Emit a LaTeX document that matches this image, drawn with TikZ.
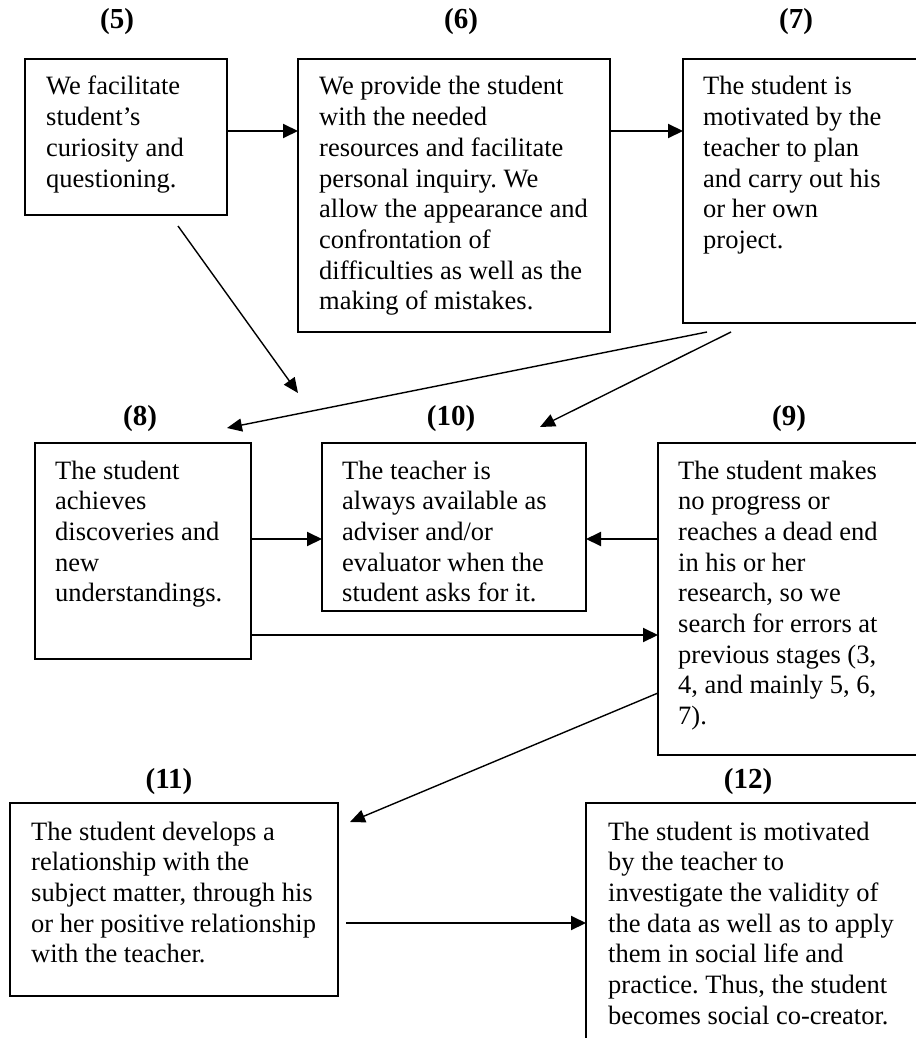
\documentclass[tikz,border=0pt]{standalone}
\usepackage{fontspec}
\setmainfont{Liberation Serif}
\usetikzlibrary{arrows.meta}
\tikzset{
  box/.style={draw, line width=2pt, rectangle, inner sep=0pt, outer sep=0pt, anchor=north west},
  txt/.style={inner sep=0pt, anchor=base west, font=\fontsize{26.5}{30.7}\selectfont},
  lbl/.style={inner sep=0pt, font=\fontsize{29}{31}\selectfont\bfseries},
  harrow/.style={line width=2pt, -{Triangle[length=15pt,width=14pt]}},
  darrow/.style={line width=1.4pt, -{Triangle[length=15pt,width=13pt]}}
}
\newcommand{\bt}[1]{\parbox[t]{420pt}{\frenchspacing #1}}
\begin{document}
\begin{tikzpicture}[x=1pt,y=-1pt]
\useasboundingbox (0,0) rectangle (915,1038);
% labels
\node[lbl] (l5) at (117,22) {(5)};
\node[lbl] (l6) at (461,22) {(6)};
\node[lbl] (l7) at (796,22) {(7)};
\node[lbl] (l8) at (140,419) {(8)};
\node[lbl] (l10) at (451,419) {(10)};
\node[lbl] (l9) at (789,419) {(9)};
\node[lbl] (l11) at (169,782) {(11)};
\node[lbl] (l12) at (748,782) {(12)};
% boxes
\node[box, minimum width=202pt, minimum height=156pt] (b5) at (25,59) {};
\node[box, minimum width=312pt, minimum height=273pt] (b6) at (298,59) {};
\node[box, minimum width=247pt, minimum height=264pt] (b7) at (683,59) {};
\node[box, minimum width=216pt, minimum height=216pt] (b8) at (35,443) {};
\node[box, minimum width=264pt, minimum height=168pt] (b10) at (322,443) {};
\node[box, minimum width=272pt, minimum height=312pt] (b9) at (658,443) {};
\node[box, minimum width=328pt, minimum height=193pt] (b11) at (10,803) {};
\node[box, minimum width=344pt, minimum height=257pt] (b12) at (586,803) {};
% texts
\node[txt] (t5) at (46,95) {\bt{We facilitate\\ student’s\\ curiosity and\\ questioning.}};
\node[txt] (t6) at (319,95) {\bt{We provide the student\\ with the needed\\ resources and facilitate\\ personal inquiry. We\\ allow the appearance and\\ confrontation of\\ difficulties as well as the\\ making of mistakes.}};
\node[txt] (t7) at (703,95) {\bt{The student is\\ motivated by the\\ teacher to plan\\ and carry out his\\ or her own\\ project.}};
\node[txt] (t8) at (55,479) {\bt{The student\\ achieves\\ discoveries and\\ new\\ understandings.}};
\node[txt] (t10) at (342,479) {\bt{The teacher is\\ always available as\\ adviser and/or\\ evaluator when the\\ student asks for it.}};
\node[txt] (t9) at (678,479) {\bt{The student makes\\ no progress or\\ reaches a dead end\\ in his or her\\ research, so we\\ search for errors at\\ previous stages (3,\\ 4, and mainly 5, 6,\\ 7).}};
\node[txt] (t11) at (31,840) {\bt{The student develops a\\ relationship with the\\ subject matter, through his\\ or her positive relationship\\ with the teacher.}};
\node[txt] (t12) at (608,840) {\bt{The student is motivated\\ by the teacher to\\ investigate the validity of\\ the data as well as to apply\\ them in social life and\\ practice. Thus, the student\\ becomes social co-creator.}};
% horizontal arrows
\draw[harrow] (b5.east |- 0,131) -- (b6.west |- 0,131);
\draw[harrow] (b6.east |- 0,131) -- (b7.west |- 0,131);
\draw[harrow] (b8.east |- 0,539) -- (b10.west |- 0,539);
\draw[harrow] (b9.west |- 0,539) -- (b10.east |- 0,539);
\draw[harrow] (b8.east |- 0,635) -- (b9.west |- 0,635);
\draw[harrow, shorten <=8pt] (b11.east |- 0,923) -- (b12.west |- 0,923);
% diagonal arrows
\coordinate (c5s) at (178,226);
\coordinate (c5e) at (298,393);
\coordinate (c7a) at (707,332);
\coordinate (c8e) at (227,428);
\coordinate (c7b) at (731,332);
\coordinate (c10e) at (540,427);
\coordinate (c9s) at (658,693);
\coordinate (c11e) at (350,822);
\draw[darrow] (c5s) -- (c5e);
\draw[darrow] (c7a) -- (c8e);
\draw[darrow] (c7b) -- (c10e);
\draw[darrow] (c9s) -- (c11e);
\end{tikzpicture}
\end{document}
